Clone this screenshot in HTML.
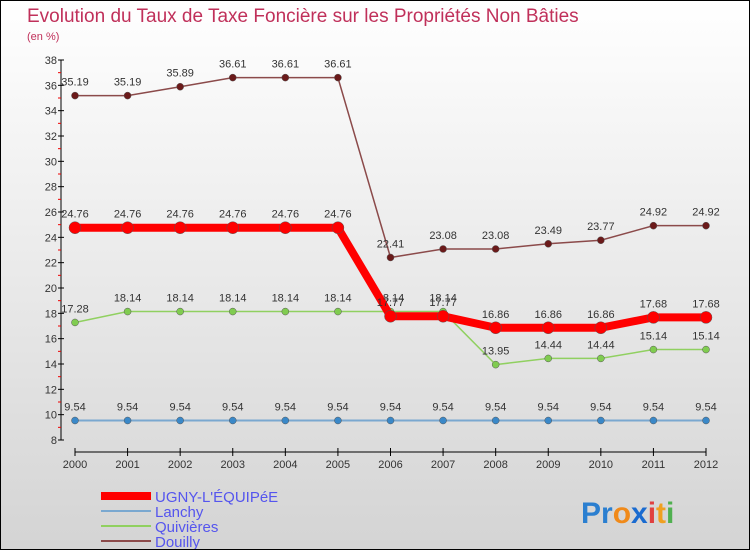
<!DOCTYPE html>
<html><head><meta charset="utf-8"><style>
body{margin:0}
#c{width:748px;height:548px;border:1px solid #000;background:linear-gradient(#fff,#d4d4d4);position:relative;overflow:hidden;font-family:"Liberation Sans",sans-serif}
</style></head><body>
<div id="c">
<svg id="s" width="748" height="548" xmlns="http://www.w3.org/2000/svg" style="position:absolute;left:0;top:0">
<text x="26" y="21" font-size="19" fill="#c0305a">Evolution du Taux de Taxe Foncière sur les Propriétés Non Bâties</text>
<text x="26" y="39" font-size="11" fill="#c0305a">(en %)</text>
<g id="g"></g>
<text x="580" y="522" font-size="30" font-weight="bold"><tspan fill="#2b7fd0">Pr</tspan><tspan fill="#f08a1a">o</tspan><tspan fill="#1a6bd0">x</tspan><tspan fill="#e04040">i</tspan><tspan fill="#f0a020">t</tspan><tspan fill="#50b050">i</tspan></text>
</svg>
</div>
<script>
const years=[2000,2001,2002,2003,2004,2005,2006,2007,2008,2009,2010,2011,2012];
const ugny=[24.76,24.76,24.76,24.76,24.76,24.76,17.77,17.77,16.86,16.86,16.86,17.68,17.68];
const lanchy=[9.54,9.54,9.54,9.54,9.54,9.54,9.54,9.54,9.54,9.54,9.54,9.54,9.54];
const quivieres=[17.28,18.14,18.14,18.14,18.14,18.14,18.14,18.14,13.95,14.44,14.44,15.14,15.14];
const douilly=[35.19,35.19,35.89,36.61,36.61,36.61,22.41,23.08,23.08,23.49,23.77,24.92,24.92];
const yTicks=[8,10,12,14,16,18,20,22,24,26,28,30,32,34,36,38];
const names=["UGNY-L'ÉQUIPéE","Lanchy","Quivières","Douilly"];
const X=i=>74+i*(705-74)/12;
const Y=v=>439-(v-8)*(439-59)/30;
const g=document.getElementById('g');
const NS='http://www.w3.org/2000/svg';
function mk(t,a,p){const e=document.createElementNS(NS,t);for(const k in a)e.setAttribute(k,a[k]);(p||g).appendChild(e);return e;}
let e=mk('line',{x1:60,y1:Y(38),x2:60,y2:Y(8),stroke:'#000'});


e=mk('line',{x1:74,y1:451,x2:705,y2:451,stroke:'#000'});


yTicks.forEach(v=>{
 mk('line',{x1:57,x2:63,y1:Y(v),y2:Y(v),stroke:'#000'});
 if(v<38)mk('line',{x1:57,x2:60,y1:Y(v+1),y2:Y(v+1),stroke:'#e00'});
 const t=mk('text',{x:56,y:Y(v)+4,'text-anchor':'end','font-size':11,fill:'#333'});t.textContent=v;
 
 
});
years.forEach((y,i)=>{
 mk('line',{x1:X(i),x2:X(i),y1:447,y2:455,stroke:'#000'});
 const t=mk('text',{x:X(i),y:467,'text-anchor':'middle','font-size':11,fill:'#333'});t.textContent=y;
 
 
});
function series(data,col,w,r,dot,name){
 const p=mk('polyline',{points:data.map((v,i)=>X(i)+','+Y(v)).join(' '),fill:'none',stroke:col,'stroke-width':w});
 
 
 data.forEach((v,i)=>{
  const c=mk('circle',{cx:X(i),cy:Y(v),r:r,fill:dot,stroke:'#555','stroke-width':0.5});
  
  
  const t=mk('text',{x:X(i),y:Y(v)-10,'text-anchor':'middle','font-size':11,fill:'#333'});t.textContent=v;
  
  
 });
}
series(douilly,'#8b4a4a',1.5,3.5,'#6b1a1a','douilly');
series(quivieres,'#90d060',1.5,3.5,'#80cc50','quivieres');
series(lanchy,'#7aa8d0',2,3.5,'#3a88c8','lanchy');
series(ugny,'#f00',8,6,'#f00','ugny');
const lc=['#f00','#7aa8d0','#90d060','#8b4a4a'],lw=[8,2,2,2];
names.forEach((n,i)=>{
 const y=495+i*15;
 const l=mk('line',{x1:100,x2:150,y1:y,y2:y,stroke:lc[i],'stroke-width':lw[i]});
 
 
 const t=mk('text',{x:154,y:y+6,'font-size':15,fill:'#5555ee'});t.textContent=n;
 
 
});
</script>
</body></html>
